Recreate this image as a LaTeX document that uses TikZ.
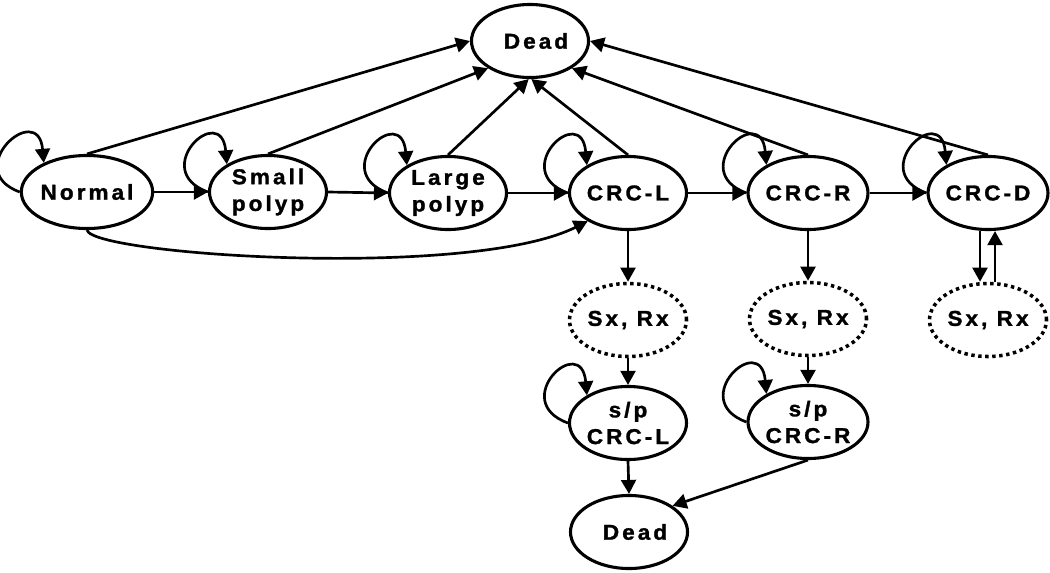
\documentclass[tikz,border=0pt]{standalone}
\usepackage{fontspec}
\newfontfamily\nf{Liberation Sans}[LetterSpace=14,FakeStretch=1.05,BoldFeatures={FakeBold=1.3}]
\usetikzlibrary{arrows.meta,shapes.geometric}
\begin{document}
\begin{tikzpicture}[x=0.025cm,y=-0.025cm,
  st/.style={ellipse,draw,line width=2.2pt,minimum width=2.925cm,minimum height=1.825cm,inner sep=0pt,align=center,font=\nf\bfseries\fontsize{15.3}{19}\selectfont},
  dst/.style={st,line width=2.5pt,dash pattern=on 0.085cm off 0.09cm},
  edge/.style={line width=1.9pt,-{Triangle[length=0.35cm,width=0.37cm]}},
]
\useasboundingbox (0,0) rectangle (1050,572);
% nodes
\node[st] (D1) at (530,41) {\hspace*{0.3cm}Dead};
\node[st] (N) at (87,192) {Normal};
\node[st] (S) at (268,192) {Small\\polyp};
\node[st] (L) at (448,193) {Large\\polyp};
\node[st] (CL) at (628,193) {CRC-L};
\node[st] (CR) at (808,193) {CRC-R};
\node[st] (CD) at (988,193) {CRC-D};
\node[dst] (SX1) at (628,320) {Sx, Rx};
\node[dst] (SX2) at (808,319) {Sx, Rx};
\node[dst] (SX3) at (988,320) {Sx, Rx};
\node[st] (SPL) at (628,423) {s/p\\CRC-L};
\node[st] (SPR) at (808,422) {s/p\\CRC-R};
\node[st] (D2) at (629,532) {\hspace*{0.3cm}Dead};
% self loops
\foreach \n in {N,S,L,CL,CR,CD,SPL,SPR}
  \draw[edge] (\n.west) .. controls +(160:1.6cm) and +(95:1.6cm) .. (\n.146);
% horizontal chain
\draw[edge] (N.east) -- (S.west);
\draw[edge] (S.east) -- (L.west);
\draw[edge] (L.east) -- (CL.west);
\draw[edge] (CL.east) -- (CR.west);
\draw[edge] (CR.east) -- (CD.west);
% to dead
\draw[edge] (N.north) -- (D1.west);
\draw[edge] (S.north) -- (D1.213);
\draw[edge] (L.north) -- (D1.268);
\draw[edge] (CL.north) -- (D1.272);
\draw[edge] (CR.north) -- (D1.-33);
\draw[edge] (CD.north) -- (D1.east);
% normal to CRC-L
\draw[edge] (N.south) .. controls (92,255) and (470,280) .. (CL.215);
% downward
\draw[edge] (CL.south) -- (SX1.north);
\draw[edge] (SX1.south) -- (SPL.north);
\draw[edge] (SPL.south) -- (D2.north);
\draw[edge] (CR.south) -- (SX2.north);
\draw[edge] (SX2.south) -- (SPR.north);
\draw[edge] (SPR.south) -- (D2.31);
\draw[edge] ([xshift=-0.2cm]CD.south) -- ([xshift=-0.2cm]SX3.north);
\draw[edge] ([xshift=0.175cm]SX3.north) -- ([xshift=0.175cm]CD.south);
\end{tikzpicture}
\end{document}
